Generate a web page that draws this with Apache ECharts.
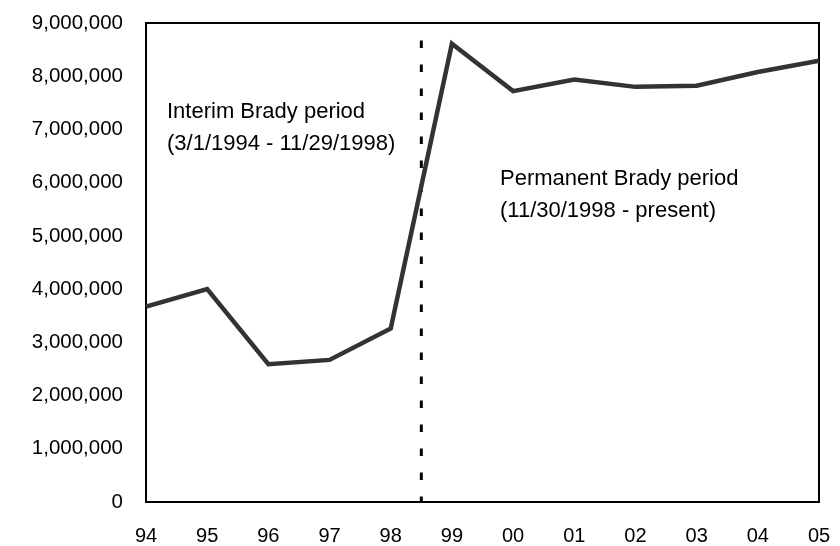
<!DOCTYPE html>
<html>
<head>
<meta charset="utf-8">
<script src="https://cdn.jsdelivr.net/npm/echarts@6/dist/echarts.min.js"></script>
<style>
html,body{margin:0;padding:0;background:#fff;}
#chart{width:840px;height:546px;}
</style>
</head>
<body>
<div id="chart"></div>
<script>
var categories = ['94','95','96','97','98','99','00','01','02','03','04','05'];
var values = [3670000, 4000000, 2590000, 2670000, 3260000, 8610000, 7720000, 7940000, 7800000, 7820000, 8080000, 8290000];
var yTicks = [0, 9000000, 1000000]; // min, max, interval
var boundaryIndex = 4.5;           // boundary between interim and permanent periods
var boundaryTop = 8670000;
var noteInterim = ['Interim Brady period', '(3/1/1994 - 11/29/1998)'];
var notePermanent = ['Permanent Brady period', '(11/30/1998 - present)'];

var FONT = '"Liberation Sans", Arial, Helvetica, sans-serif';
var chart = echarts.init(document.getElementById('chart'));

function fmt(v){ return String(v).replace(/\B(?=(\d{3})+(?!\d))/g, ','); }

chart.setOption({
  animation: false,
  backgroundColor: '#fff',
  grid: { left: 146, right: 21, top: 23, bottom: 44, show: true, borderColor: '#000', borderWidth: 2, backgroundColor: 'transparent' },
  xAxis: {
    type: 'value', min: 0, max: categories.length - 1, interval: 1,
    axisLine: { show: false }, axisTick: { show: false }, splitLine: { show: false },
    axisLabel: { color: '#000', fontFamily: FONT, fontSize: 20, margin: 24,
      formatter: function(v){ return categories[Math.round(v)] || ''; } }
  },
  yAxis: {
    type: 'value', min: yTicks[0], max: yTicks[1], interval: yTicks[2],
    axisLine: { show: false }, axisTick: { show: false }, splitLine: { show: false },
    axisLabel: { color: '#000', fontFamily: FONT, fontSize: 20.5, margin: 23, formatter: fmt }
  },
  series: [
    {
      type: 'line', silent: true, symbol: 'none', z: 2,
      data: [[boundaryIndex, boundaryTop], [boundaryIndex, 0]],
      lineStyle: { color: '#000', width: 3, type: [7.5, 16.5] }
    },
    {
      type: 'line', symbol: 'none', z: 3,
      data: values.map(function(v, i){ return [i, v]; }),
      lineStyle: { color: '#333333', width: 4.5, join: 'miter' }
    }
  ],
  graphic: [
    { type: 'text', left: 167, top: 96, style: { text: noteInterim.join('\n'), font: '22px ' + FONT, fill: '#000', lineHeight: 32 } },
    { type: 'text', left: 500, top: 163, style: { text: notePermanent.join('\n'), font: '22px ' + FONT, fill: '#000', lineHeight: 32 } }
  ]
});
</script>
</body>
</html>
